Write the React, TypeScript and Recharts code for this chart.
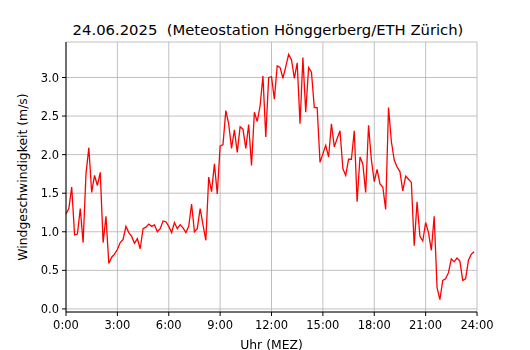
import { CartesianGrid, Line, LineChart, XAxis, YAxis } from 'recharts';

// Windgeschwindigkeit (m/s), 10-Minuten-Werte ab 0:00
const windSpeed = [
  1.23, 1.3, 1.58, 0.96, 0.97, 1.3, 0.86, 1.75, 2.09, 1.51, 1.73, 1.6,
  1.77, 0.86, 1.2, 0.59, 0.67, 0.71, 0.77, 0.86, 0.9, 1.07, 0.99, 0.94,
  0.85, 0.91, 0.78, 1.04, 1.06, 1.1, 1.07, 1.09, 1.0, 1.04, 1.14, 1.13,
  1.07, 0.99, 1.12, 1.04, 1.09, 1.05, 0.99, 1.07, 1.36, 1.0, 1.04, 1.3,
  1.09, 0.89, 1.71, 1.52, 1.88, 1.49, 2.11, 2.13, 2.57, 2.4, 2.08, 2.32,
  2.03, 2.36, 2.33, 2.08, 2.39, 1.86, 2.55, 2.43, 2.63, 3.02, 2.23, 3.0,
  3.01, 2.72, 3.15, 3.13, 2.99, 3.14, 3.3, 3.23, 2.99, 3.19, 2.4, 3.26,
  2.55, 3.13, 3.07, 2.61, 2.61, 1.9, 2.01, 2.12, 1.97, 2.4, 2.1, 2.21,
  2.31, 1.82, 1.73, 1.94, 1.94, 2.31, 1.39, 1.97, 1.88, 1.51, 2.38, 1.93,
  1.65, 1.81, 1.62, 1.58, 1.29, 2.61, 2.17, 1.93, 1.84, 1.78, 1.53, 1.72,
  1.68, 1.64, 0.82, 1.39, 0.94, 0.88, 1.12, 0.99, 0.76, 1.2, 0.28, 0.12,
  0.37, 0.39, 0.47, 0.65, 0.61, 0.66, 0.62, 0.37, 0.39, 0.63, 0.71, 0.74,
];

const STEP_MIN = 10;
const xTicks = [0, 180, 360, 540, 720, 900, 1080, 1260, 1440];
const yTicks = [0, 0.5, 1, 1.5, 2, 2.5, 3];

const data = windSpeed.map((v, i) => ({ t: i * STEP_MIN, v }));

const FONT = '"DejaVu Sans", sans-serif';

const fmtTime = (m: number) => `${Math.floor(m / 60)}:${String(m % 60).padStart(2, '0')}`;

export default function App() {
  return (
    <div style={{ position: 'fixed', left: 0, top: 0, width: 530, height: 350, background: '#fff', fontFamily: FONT }}>
      <div
        style={{
          position: 'absolute', left: 268, top: 29, transform: 'translate(-50%, -50%)',
          fontSize: 14.8, whiteSpace: 'pre', color: '#000',
        }}
      >
        {'24.06.2025  (Meteostation Hönggerberg/ETH Zürich)'}
      </div>
      <div
        style={{
          position: 'absolute', left: 22, top: 177, transform: 'translate(-50%, -50%) rotate(-90deg)',
          fontSize: 12.4, whiteSpace: 'nowrap', color: '#000',
        }}
      >
        Windgeschwindigkeit (m/s)
      </div>
      <div
        style={{
          position: 'absolute', left: 271.5, top: 343.5, transform: 'translate(-50%, -50%)',
          fontSize: 12.4, lineHeight: '13px', whiteSpace: 'nowrap', color: '#000',
        }}
      >
        Uhr (MEZ)
      </div>
      <LineChart width={530} height={350} data={data} margin={{ top: 42, right: 53, bottom: 0, left: 0 }}>
        <CartesianGrid stroke="#b0b0b0" strokeWidth={0.8} />
        <XAxis
          dataKey="t"
          type="number"
          domain={[0, 1440]}
          ticks={xTicks}
          tickFormatter={fmtTime}
          height={38}
          tickSize={4}
          tickMargin={5}
          interval={0}
          stroke="#000"
          tick={{ fill: '#000', fontSize: 11.5, fontFamily: FONT }}
        />
        <XAxis xAxisId="top" orientation="top" dataKey="t" type="number" domain={[0, 1440]} height={0} tick={false} tickLine={false} stroke="#000" />
        <YAxis
          type="number"
          domain={[-0.04, 3.46]}
          ticks={yTicks}
          tickFormatter={(v: number) => v.toFixed(1)}
          width={66}
          tickSize={4}
          tickMargin={3}
          interval={0}
          allowDataOverflow
          stroke="#000"
          tick={{ fill: '#000', fontSize: 11.5, fontFamily: FONT }}
        />
        <YAxis yAxisId="right" orientation="right" domain={[-0.04, 3.46]} width={0} tick={false} tickLine={false} stroke="#000" />
        <Line
          type="linear"
          dataKey="v"
          stroke="#ff0000"
          strokeWidth={1.3}
          dot={false}
          isAnimationActive={false}
        />
      </LineChart>
    </div>
  );
}
